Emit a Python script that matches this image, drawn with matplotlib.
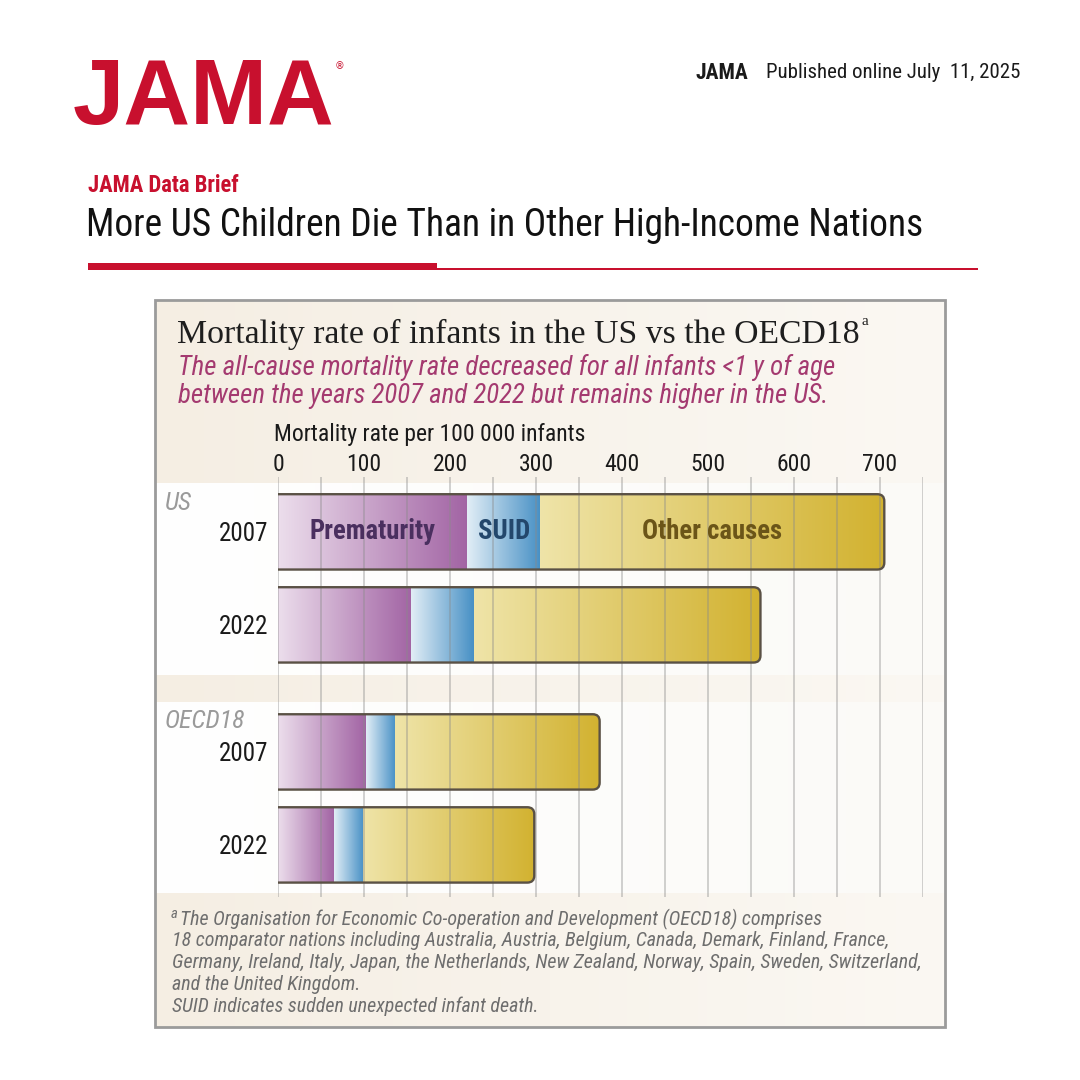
import matplotlib.pyplot as plt
import numpy as np
from matplotlib.path import Path
from matplotlib.patches import PathPatch, Rectangle
from matplotlib.colors import LinearSegmentedColormap

# data (deaths per 100 000 infants)
groups = ["US", "OECD18"]
years = ["2007", "2022"]
causes = ["Prematurity", "SUID", "Other causes"]
us_prematurity = [220, 155]
us_suid = [85, 73]
us_other = [400, 333]
oecd_prematurity = [102, 65]
oecd_suid = [34, 34]
oecd_other = [238, 199]
tick_values = [0, 100, 200, 300, 400, 500, 600, 700]

values = {
    "US": [us_prematurity, us_suid, us_other],
    "OECD18": [oecd_prematurity, oecd_suid, oecd_other],
}

# styles
COND = ["Roboto Condensed", "Roboto", "DejaVu Sans"]
RED = "#c8102e"
cause_colors = [("#ecdeec", "#a264a4"), ("#e2eef6", "#4790c5"), ("#efe4a8", "#d2b230")]
label_colors = ["#4a2f5f", "#23476c", "#6b5518"]
EDGE = "#5a5145"

fig = plt.figure(figsize=(10.8, 10.8), dpi=100)
fig.patch.set_facecolor("white")

# background layer in pixel coordinates
bg = fig.add_axes([0, 0, 1, 1])
bg.set_xlim(0, 1080)
bg.set_ylim(1080, 0)
bg.axis("off")

# header
bg.text(73, 100, "JAMA", family="Liberation Sans", weight="bold", fontsize=66.5,
        color=RED, ha="left", va="center")
bg.text(335, 66, "®", family="DejaVu Sans", fontsize=7, color=RED, ha="left", va="center")
bg.text(748, 73, "JAMA", family=COND, weight="bold", fontsize=15.5, color="#1a1a1a",
        ha="right", va="center")
bg.text(1020, 73, "Published online July  11, 2025", family=COND, fontsize=15,
        color="#1a1a1a", ha="right", va="center")
bg.text(88, 186, "JAMA Data Brief", family=COND, weight="bold", fontsize=16.3,
        color=RED, ha="left", va="center")
bg.text(86, 226, "More US Children Die Than in Other High-Income Nations", family=COND,
        fontsize=27, color="#111111", ha="left", va="center")
bg.add_patch(Rectangle((88, 263), 349, 7, color=RED, lw=0))
bg.add_patch(Rectangle((437, 268), 541, 2, color=RED, lw=0))

# panel backgrounds
grad = np.linspace(0, 1, 256)[None, :]
beige = LinearSegmentedColormap.from_list("beige", ["#f5eee3", "#fbf8f3"])
bg.imshow(grad, cmap=beige, extent=(155, 945, 483, 300), aspect="auto", zorder=0)
white = LinearSegmentedColormap.from_list("white", ["#ffffff", "#fbfaf7"])
bg.imshow(grad, cmap=white, extent=(155, 945, 893, 483), aspect="auto", zorder=0)
bg.imshow(grad, cmap=beige, extent=(155, 945, 702, 675), aspect="auto", zorder=0)
bg.imshow(grad, cmap=beige, extent=(155, 945, 1027, 893), aspect="auto", zorder=0)
bg.add_patch(Rectangle((155, 300), 790, 727, fill=False, ec="#9b9b9b", lw=2, zorder=3))
bg.set_xlim(0, 1080)
bg.set_ylim(1080, 0)

# panel texts
title = bg.text(177, 334, "Mortality rate of infants in the US vs the OECD18",
                family="Liberation Serif", fontsize=24.3, color="#1e1e1e",
                ha="left", va="center")
bg.annotate("a", xy=(1, 0.9), xycoords=title, xytext=(1, 0), textcoords="offset points",
            family="Liberation Serif", fontsize=11, color="#1e1e1e", ha="left", va="center")
sub_color = "#a43a70"
bg.text(178, 367, "The all-cause mortality rate decreased for all infants <1 y of age",
        family=COND, style="italic", fontsize=19.4, color=sub_color, ha="left", va="center")
bg.text(178, 396, "between the years 2007 and 2022 but remains higher in the US.",
        family=COND, style="italic", fontsize=19.4, color=sub_color, ha="left", va="center")
bg.text(274, 434, "Mortality rate per 100 000 infants", family=COND, fontsize=17,
        color="#1a1a1a", ha="left", va="center")
bg.text(165, 503, "US", family=COND, style="italic", fontsize=18.5, color="#9a9a9a",
        ha="left", va="center")
bg.text(165, 721, "OECD18", family=COND, style="italic", fontsize=18.5, color="#9a9a9a",
        ha="left", va="center")

foot = [
    "The Organisation for Economic Co-operation and Development (OECD18) comprises",
    "18 comparator nations including Australia, Austria, Belgium, Canada, Demark, Finland, France,",
    "Germany, Ireland, Italy, Japan, the Netherlands, New Zealand, Norway, Spain, Sweden, Switzerland,",
    "and the United Kingdom.",
]
bg.text(171, 914, "a", family=COND, style="italic", fontsize=10.5, color="#6e6e6e",
        ha="left", va="center")
for i, line in enumerate(foot):
    bg.text(180 if i == 0 else 172, 919 + i * 21.7, line, family=COND, style="italic",
            fontsize=14.4, color="#6e6e6e", ha="left", va="center")
bg.text(172, 1006, "SUID indicates sudden unexpected infant death.", family=COND,
        style="italic", fontsize=14.4, color="#6e6e6e", ha="left", va="center")

# chart axes
ax = fig.add_axes([278 / 1080, 1 - 897 / 1080, (923 - 278) / 1080, (897 - 477) / 1080])
ax.patch.set_alpha(0)
bar_h = 0.81
group_gap = 2.366
rx, ry = 8.1, 0.075


def bar_path(x1, y0, y1, closed):
    verts = [(0, y0), (x1 - rx, y0), (x1, y0), (x1, y0 + ry), (x1, y1 - ry),
             (x1, y1), (x1 - rx, y1), (0, y1)]
    codes = [Path.MOVETO, Path.LINETO, Path.CURVE3, Path.CURVE3, Path.LINETO,
             Path.CURVE3, Path.CURVE3, Path.LINETO]
    if closed:
        verts.append((0, y0))
        codes.append(Path.CLOSEPOLY)
    return Path(verts, codes)


ypos = []
ylabels = []
for g, grp in enumerate(groups):
    for i, yr in enumerate(years):
        yc = g * group_gap + i
        ypos.append(yc)
        ylabels.append(yr)
        segs = [values[grp][c][i] for c in range(len(causes))]
        total = sum(segs)
        y0, y1 = yc - bar_h / 2, yc + bar_h / 2
        clip = PathPatch(bar_path(total, y0, y1, True), transform=ax.transData)
        left = 0
        for c, w in enumerate(segs):
            cm = LinearSegmentedColormap.from_list(causes[c], cause_colors[c])
            im = ax.imshow(grad, cmap=cm, extent=(left, left + w, y1, y0),
                           aspect="auto", interpolation="bilinear", zorder=1)
            im.set_clip_path(clip)
            if grp == "US" and yr == "2007":
                ax.text(left + w / 2, yc, causes[c], family=COND, weight="bold",
                        fontsize=19.2, color=label_colors[c], ha="center", va="center",
                        zorder=4)
            left += w
        ax.add_patch(PathPatch(bar_path(total, y0, y1, False), fill=False, ec=EDGE,
                               lw=1.7, zorder=3, capstyle="butt", joinstyle="round"))

ax.set_xlim(0, 750)
ax.set_ylim(group_gap + 1 + 0.56, -0.59)
ax.set_xticks(tick_values)
ax.set_xticklabels([str(v) for v in tick_values], family=COND, fontsize=17, color="#1a1a1a")
ax.set_xticks(np.arange(0, 751, 50), minor=True)
ax.xaxis.tick_top()
ax.tick_params(axis="x", which="both", length=0, pad=0.5)
ax.set_yticks(ypos)
ax.set_yticklabels(ylabels, family=COND, fontsize=18, color="#1a1a1a")
ax.tick_params(axis="y", length=0, pad=7)
ax.grid(axis="x", which="both", color="#8a8a8a", alpha=0.42, lw=1.3)
ax.set_axisbelow(False)
for s in ax.spines.values():
    s.set_visible(False)

fig.savefig("out.png", dpi=100)
